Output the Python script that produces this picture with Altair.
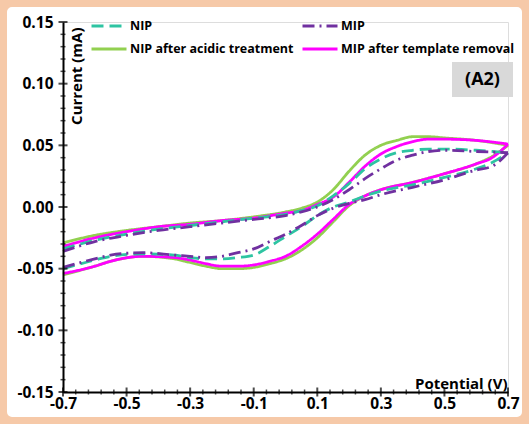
import altair as alt
import pandas as pd

# ---------------- data ----------------
series_names = ["NIP", "NIP after acidic treatment", "MIP", "MIP after template removal"]
series_colors = ["#2EC4A2", "#92D050", "#7030A0", "#FF00FF"]
series_dashes = [[12, 6], [1, 0], [12, 5, 2, 5], [1, 0]]

# forward (anodic) scan, upper branch
fwd_potential = [-0.7, -0.6, -0.5, -0.4, -0.3, -0.2, -0.1, 0.0, 0.05, 0.1, 0.15, 0.2,
                 0.25, 0.3, 0.35, 0.4, 0.45, 0.5, 0.6, 0.7]
nip_fwd = [-0.034, -0.027, -0.022, -0.018, -0.015, -0.012, -0.009, -0.006, -0.003, 0.001, 0.009, 0.019,
           0.031, 0.039, 0.044, 0.046, 0.047, 0.047, 0.046, 0.044]
nip_acid_fwd = [-0.029, -0.023, -0.019, -0.016, -0.013, -0.011, -0.008, -0.004, -0.001, 0.004, 0.014, 0.029,
                0.042, 0.050, 0.054, 0.057, 0.057, 0.056, 0.054, 0.050]
mip_fwd = [-0.036, -0.028, -0.023, -0.019, -0.016, -0.013, -0.010, -0.007, -0.004, 0.000, 0.006, 0.014,
           0.023, 0.031, 0.038, 0.042, 0.045, 0.046, 0.045, 0.044]
mip_removed_fwd = [-0.032, -0.025, -0.020, -0.016, -0.014, -0.011, -0.009, -0.005, -0.003, 0.002, 0.008, 0.020,
                   0.033, 0.043, 0.049, 0.053, 0.055, 0.055, 0.054, 0.051]

# reverse (cathodic) scan, lower branch
rev_potential = [0.7, 0.65, 0.6, 0.5, 0.4, 0.3, 0.25, 0.2, 0.15, 0.1, 0.05, 0.0, -0.05, -0.1,
                 -0.15, -0.2, -0.25, -0.3, -0.35, -0.45, -0.55, -0.6, -0.7]
nip_rev = [0.044, 0.036, 0.031, 0.024, 0.018, 0.013, 0.009, 0.004, 0.000, -0.007, -0.016, -0.024, -0.032, -0.039,
           -0.041, -0.042, -0.042, -0.041, -0.039, -0.038, -0.040, -0.043, -0.050]
nip_acid_rev = [0.050, 0.041, 0.035, 0.027, 0.020, 0.014, 0.009, 0.001, -0.012, -0.025, -0.035, -0.042, -0.046, -0.049,
                -0.050, -0.050, -0.048, -0.045, -0.042, -0.040, -0.044, -0.048, -0.055]
mip_rev = [0.044, 0.033, 0.030, 0.022, 0.016, 0.010, 0.006, 0.003, -0.001, -0.007, -0.015, -0.022, -0.028, -0.034,
           -0.037, -0.040, -0.041, -0.040, -0.039, -0.037, -0.039, -0.042, -0.049]
mip_removed_rev = [0.051, 0.040, 0.035, 0.027, 0.020, 0.014, 0.009, 0.002, -0.010, -0.022, -0.032, -0.040, -0.044, -0.047,
                   -0.048, -0.048, -0.046, -0.043, -0.041, -0.040, -0.044, -0.048, -0.054]

x_major = [-0.7, -0.5, -0.3, -0.1, 0.1, 0.3, 0.5, 0.7]
y_major = [-0.15, -0.10, -0.05, 0.0, 0.05, 0.10, 0.15]
panel_label = "(A2)"

# ---------------- table ----------------
fwd_sets = [nip_fwd, nip_acid_fwd, mip_fwd, mip_removed_fwd]
rev_sets = [nip_rev, nip_acid_rev, mip_rev, mip_removed_rev]
rows = []
for name, f, r in zip(series_names, fwd_sets, rev_sets):
    for p, c in zip(fwd_potential, f):
        rows.append({"series": name, "branch": name + " fwd", "potential": p, "current": c})
    for p, c in zip(rev_potential, r):
        rows.append({"series": name, "branch": name + " rev", "potential": p, "current": c})
df = pd.DataFrame(rows)

x_minor = [round(a + k * 0.04, 2) for a in x_major[:-1] for k in range(1, 5)]
y_minor = [round(a + k * 0.01, 2) for a in y_major[:-1] for k in range(1, 5)]

# ---------------- styling ----------------
FONT = "Open Sans"
W, H = 445, 370
peach = "#F6C9A8"

x_scale = alt.Scale(domain=[-0.7, 0.7], nice=False, zero=False)
y_scale = alt.Scale(domain=[-0.15, 0.15], nice=False, zero=False)
color_scale = alt.Scale(domain=series_names, range=series_colors)
dash_scale = alt.Scale(domain=series_names, range=series_dashes)

legend = alt.Legend(
    title=None, orient="none", legendX=27, legendY=-6, columns=2, columnPadding=7,
    rowPadding=3, clipHeight=20, symbolType="stroke", symbolSize=1225, symbolStrokeWidth=3,
    labelFont=FONT, labelFontSize=12.5, labelFontWeight="bold", labelColor="black",
    labelOffset=2, padding=0, labelLimit=400,
)

x_axis = alt.Axis(
    values=x_major, title="Potential (V)", grid=False, ticks=False, tickSize=0,
    labelExpr="datum.value < 0 ? '-' + format(-datum.value, '.1f') : format(datum.value, '.1f')",
    domainColor="black", domainWidth=2, labelFont=FONT, labelFontSize=15.5, labelFontWeight="bold",
    labelColor="black", labelPadding=4, labelFlush=False, labelOverlap=False,
    titleX=W - 1, titleY=-4, titleAlign="right", titleBaseline="alphabetic",
    titleFont=FONT, titleFontSize=15, titleFontWeight="bold", titleColor="black", zindex=1,
)
y_axis = alt.Axis(
    values=y_major, title="Current (mA)", grid=False, ticks=False, tickSize=0,
    labelExpr="datum.value < 0 ? '-' + format(-datum.value, '.2f') : format(datum.value, '.2f')",
    domainColor="black", domainWidth=2, labelFont=FONT, labelFontSize=15.5, labelFontWeight="bold",
    labelColor="black", labelPadding=10, labelFlush=False, labelOverlap=False,
    titleAngle=270, titleX=13, titleY=5, titleAlign="right", titleBaseline="middle",
    titleFont=FONT, titleFontSize=15, titleFontWeight="bold", titleColor="black", zindex=1,
)

one = pd.DataFrame({"a": [0]})
# peach frame around the whole picture (thick stroke only)
frame = alt.Chart(one).mark_rect(fill="white", fillOpacity=0, stroke=peach, strokeWidth=30, cornerRadius=20).encode(
    x=alt.value(-71), x2=alt.value(474), y=alt.value(-30), y2=alt.value(410))
box = alt.Chart(one).mark_rect(fill="#D9D9D9").encode(
    x=alt.value(389), x2=alt.value(450), y=alt.value(40), y2=alt.value(75))
box_text = alt.Chart(pd.DataFrame({"t": [panel_label]})).mark_text(
    font=FONT, fontSize=18, fontWeight="bold", color="black", align="center", baseline="middle"
).encode(x=alt.value(419.5), y=alt.value(57.5), text="t:N")

base = alt.Chart(df).mark_line(strokeWidth=2.8, interpolate="monotone").encode(
    x=alt.X("potential:Q", scale=x_scale, axis=x_axis),
    y=alt.Y("current:Q", scale=y_scale, axis=y_axis),
    color=alt.Color("series:N", scale=color_scale, legend=legend),
    strokeDash=alt.StrokeDash("series:N", scale=dash_scale, legend=legend),
    detail="branch:N",
)
draw_order = ["NIP after acidic treatment", "MIP after template removal", "NIP", "MIP"]
curves = [base.transform_filter(alt.datum.series == n) for n in draw_order]

ymaj = alt.Chart(pd.DataFrame({"current": y_major})).mark_tick(color="black", thickness=2, size=9).encode(
    y=alt.Y("current:Q", scale=y_scale, axis=y_axis), x=alt.value(0))
ymin = alt.Chart(pd.DataFrame({"current": y_minor})).mark_tick(color="black", thickness=1.5, size=5).encode(
    y=alt.Y("current:Q", scale=y_scale, axis=y_axis), x=alt.value(0))
xmaj = alt.Chart(pd.DataFrame({"potential": x_major})).mark_tick(color="black", thickness=2, size=9).encode(
    x=alt.X("potential:Q", scale=x_scale, axis=x_axis), y=alt.value(H))
xmin = alt.Chart(pd.DataFrame({"potential": x_minor})).mark_tick(color="black", thickness=1.5, size=5).encode(
    x=alt.X("potential:Q", scale=x_scale, axis=x_axis), y=alt.value(H))

chart = alt.layer(box, box_text, *curves, ymaj, ymin, xmaj, xmin, frame).properties(
    width=W, height=H,
    autosize=alt.AutoSizeParams(type="none"),
    padding={"left": 63, "top": 22, "right": 21, "bottom": 32},
    background="white",
).configure_view(stroke=None).configure(font=FONT)

chart.save("out.html", embed_options={"renderer": "svg", "actions": False})
